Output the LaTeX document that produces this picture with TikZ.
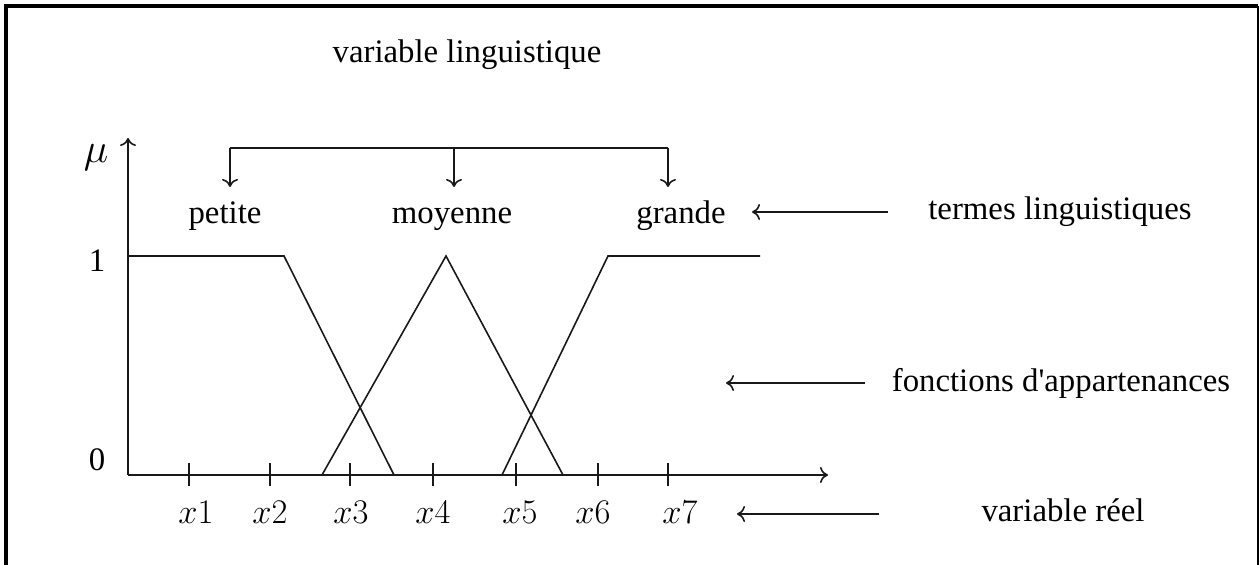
\documentclass[tikz,border=0pt]{standalone}
\usepackage{fontspec}
\setmainfont{Liberation Serif}
\usepackage{tikz}
\usetikzlibrary{arrows.meta}

\begin{document}
\begin{tikzpicture}
 [x=0.5pt, y=-0.5pt,
  text node/.style={font=\fontsize{16.4}{19}\selectfont, inner sep=1pt},
  term node/.style={text node, anchor=base},
  graph line/.style={line width=0.8pt, black!90},
  pointer arrow/.style={-{To[length=4pt,width=8pt]}, line width=0.8pt, black!90}]

\useasboundingbox (0,0) rectangle (1259,565);
\draw[line width=1.6pt] (6,565) -- (6,6) -- (1258,6);
\draw[line width=0.6pt] (1258,6) -- (1258,565);

% axes
\coordinate (O) at (128,475);
\coordinate (ytop) at (128,138);
\coordinate (xend) at (828,475);
\draw[pointer arrow] (O) -- (ytop);
\draw[pointer arrow] (O) -- (xend);

\node[text node, font=\fontsize{20}{24}\selectfont] (mu) at (96,158) {$\mu$};
\node[text node] (one) at (97,261) {1};
\node[text node] (zero) at (97,460) {0};

\foreach \t/\l/\n in {189/196/1, 270/270/2, 350/351/3, 433/433/4, 516/520/5, 598/593/6, 668/680/7}
{
  \draw[graph line] (\t,463) -- (\t,486);
  \node[text node] (x\n) at (\l,512) {$x\n$};
}

% fonctions d'appartenance
\draw[graph line] (128,256) -- (284,256) -- (394,475);
\draw[graph line] (322,475) -- (446,256) -- (563,475);
\draw[graph line] (502,475) -- (608,256) -- (760,256);

% termes
\node[text node] (varling) at (467,55) {variable linguistique};
\node[term node] (petite) at (225,224) {petite};
\node[term node] (moyenne) at (452,224) {moyenne};
\node[term node] (grande) at (681,224) {grande};

\coordinate (bl) at (230,148);
\coordinate (bm) at (454,148);
\coordinate (br) at (668,148);
\coordinate (pl) at (230,187);
\coordinate (pm) at (454,187);
\coordinate (pr) at (668,187);
\draw[graph line] (bl) -- (br);
\draw[pointer arrow] (bl) -- (pl);
\draw[pointer arrow] (bm) -- (pm);
\draw[pointer arrow] (br) -- (pr);

% legendes
\node[text node] (termes) at (1060,212) {termes linguistiques};
\node[text node] (fonctions) at (1061,383) {fonctions d\textquotesingle appartenances};
\node[text node] (reel) at (1063,510) {variable réel};
\coordinate (fa) at (726,383);
\coordinate (vr) at (737,514);

\draw[pointer arrow, shorten <=19pt, shorten >=12pt] (termes.west) -- (grande.east |- termes.west);
\draw[pointer arrow, shorten <=12pt] (fonctions.west) -- (fa);
\draw[pointer arrow, shorten <=50pt] (reel.west |- vr) -- (vr);

\end{tikzpicture}
\end{document}
